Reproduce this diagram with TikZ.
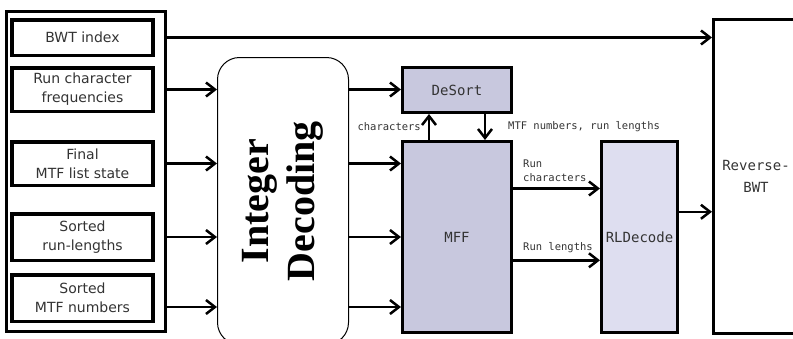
\documentclass[tikz,border=0pt]{standalone}
\usepackage{fontspec}
\setsansfont{DejaVu Sans}
\setmonofont{DejaVu Sans Mono}
\newfontfamily\headfont{Liberation Serif}
\usetikzlibrary{positioning,arrows.meta,calc}

\definecolor{mffblue}{RGB}{200,200,222}
\definecolor{rlblue}{RGB}{222,222,240}

\tikzset{
    inbox/.style={draw, line width=3.5pt, minimum width=141pt, align=center, text=black!80,
        font=\sffamily\fontsize{14}{19}\selectfont},
    unit/.style={draw, line width=3pt, align=center, text=black!80, font=\ttfamily\fontsize{14}{22}\selectfont},
    flow/.style={line width=2.5pt, -{Straight Barb[length=9pt,width=14pt]}},
    tag/.style={text=black!80, align=left, inner sep=1pt, font=\ttfamily\fontsize{10.5}{14}\selectfont}
}

\begin{document}
\begin{tikzpicture}[x=1pt, y=-1pt]
    \useasboundingbox (0,0) rectangle (793,338);
    \clip (0,0) rectangle (793,338);
    % compressed stream fields
    \node [draw, line width=3pt, minimum width=159pt, minimum height=320pt] (inputs) at (86,171.5) {}; % outer frame
    \node [inbox, minimum height=35.5pt] (bwtidx) at (82.5,37.5) {BWT index};
    \node [inbox, minimum height=43.5pt, below=9pt of bwtidx] (runfreq) {Run character\\frequencies};
    \node [inbox, minimum height=43.5pt, below=27pt of runfreq] (mtfstate) {Final\\MTF list state};
    \node [inbox, minimum height=46.5pt, below=25pt of mtfstate] (sortrl) {Sorted\\run-lengths};
    \node [inbox, minimum height=46.5pt, below=11pt of sortrl] (sortmtf) {Sorted\\MTF numbers};
    % decoding stages (rotated, so north is the left side)
    \node [draw, line width=1pt, rounded corners=22pt, minimum width=287pt, minimum height=131pt,
        align=center, font=\headfont\bfseries\fontsize{40}{46}\selectfont, rotate=90] (intdec) at (283,201) {Integer\\Decoding};
    \node [unit, fill=mffblue, minimum width=109pt, minimum height=45pt] (desort) at (457,90) {DeSort};
    \node [unit, fill=mffblue, minimum width=109pt, minimum height=191pt, below=26pt of desort] (mff) {MFF};
    \node [unit, fill=rlblue, minimum width=76pt, minimum height=191pt, right=87pt of mff] (rldec) {RLDecode};
    \node [unit, minimum width=85pt, minimum height=314pt] (rbwt) at (756,176.5) {Reverse-\\BWT};
    % helper points on the block edges
    \coordinate (mtfin) at ($(inputs.east |- sortmtf)+(0,9)$);
    \coordinate (upline) at ($(mff.north west)!0.25!(mff.north east)$);
    \coordinate (downline) at ($(mff.north west)!0.75!(mff.north east)$);
    \coordinate (runchar) at ($(mff.north east)!0.25!(mff.south east)$);
    \coordinate (runlen) at ($(mff.north east)!0.62!(mff.south east)$);
    \coordinate (decoded) at ($(rldec.north east)!0.37!(rldec.south east)$);
    % connectors
    \draw [flow] (inputs.east |- bwtidx) -- (rbwt.west |- bwtidx);
    \draw [flow] (inputs.east |- runfreq) -- (intdec.north |- runfreq);
    \draw [flow] (inputs.east |- mtfstate) -- (intdec.north |- mtfstate);
    \draw [flow] (inputs.east |- sortrl) -- (intdec.north |- sortrl);
    \draw [flow] (mtfin) -- (intdec.north |- mtfin);
    \draw [flow] (intdec.south |- runfreq) -- (desort.west |- runfreq);
    \draw [flow] (intdec.south |- mtfstate) -- (mff.west |- mtfstate);
    \draw [flow] (intdec.south |- sortrl) -- (mff.west |- sortrl);
    \draw [flow] (intdec.south |- mtfin) -- (mff.west |- mtfin);
    \draw [flow] (upline) -- (upline |- desort.south);
    \draw [flow] (downline |- desort.south) -- (downline);
    \draw [flow] (runchar) -- (rldec.west |- runchar);
    \draw [flow] (runlen) -- (rldec.west |- runlen);
    \draw [flow] (decoded) -- (rbwt.west |- decoded);
    % connector labels
    \node [tag, anchor=east] (chartag) at ($(upline)+(-7,-13)$) {characters};
    \node [tag, anchor=west] (mtftag) at ($(downline)+(22,-13)$) {MTF numbers, run lengths};
    \node [tag, anchor=south west] (runchartag) at ($(runchar)+(9,-6)$) {Run\\characters};
    \node [tag, anchor=south west] (runlentag) at ($(runlen)+(9,-6)$) {Run lengths};
\end{tikzpicture}
\end{document}
